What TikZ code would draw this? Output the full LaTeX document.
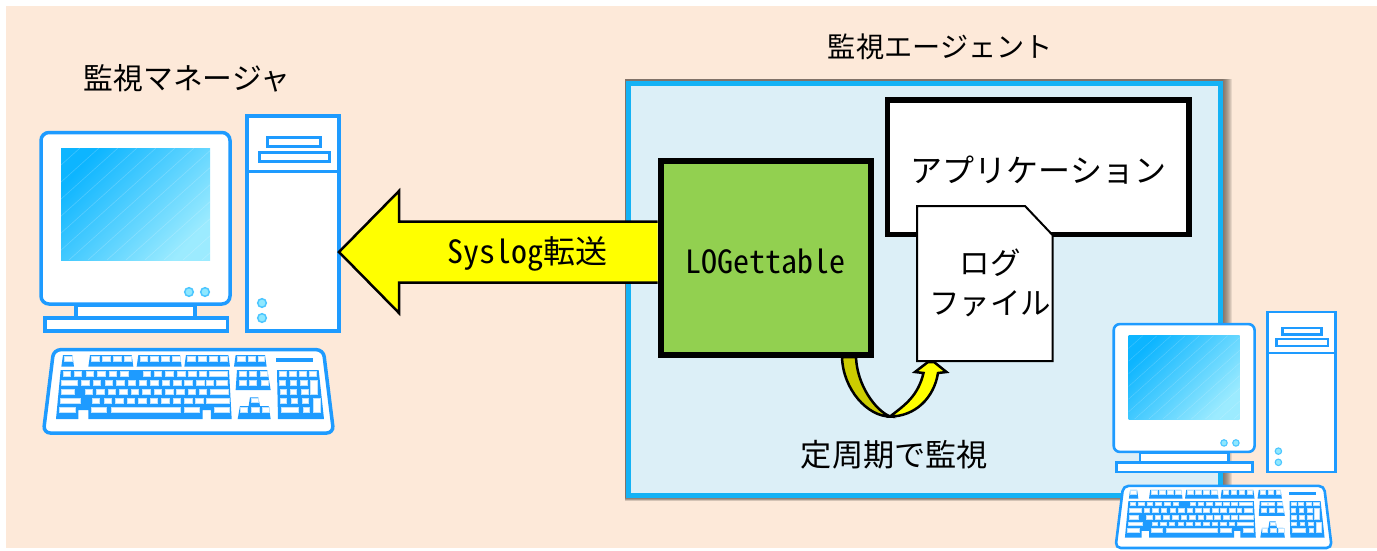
\documentclass[tikz,border=0pt]{standalone}
\usepackage{fontspec}
\setmainfont{Noto Sans CJK JP}
\newfontfamily\hwfont[RawFeature=+hwid]{Noto Sans CJK JP}
\definecolor{bgpeach}{HTML}{FDE9D9}
\definecolor{panelblue}{HTML}{DCEFF7}
\definecolor{panelrim}{HTML}{14B2F5}
\definecolor{pcblue}{HTML}{1E9BFF}
\definecolor{ledfill}{HTML}{8FE8FF}
\definecolor{ledrim}{HTML}{4CC6FF}
\definecolor{scrA}{HTML}{0DB5FF}
\definecolor{scrB}{HTML}{9CEBFF}
\definecolor{keyedge}{HTML}{BFE4FF}
\definecolor{brightyellow}{HTML}{FFFF00}
\definecolor{darkyellow}{HTML}{CCCC00}
\definecolor{logeGreen}{HTML}{92D050}
\definecolor{shadowtone}{HTML}{5A5048}
\tikzset{
  jptext/.style={inner sep=0pt,font=\fontsize{29.8}{40}\selectfont,align=center,text=black},
  hwtext/.style={inner sep=0pt,font=\fontsize{32}{38}\selectfont,text=black},
  pcline/.style={draw=pcblue,fill=white,line width=\cs*3.5pt},
  led/.style={draw=ledrim,fill=ledfill,line width=\cs*1.5pt},
  blackout/.style={draw=black,line width=2.5pt,line join=miter},
  keycap/.style={fill=white,draw=keyedge,line width=.3pt},
  keyblock/.style={fill=pcblue},
}
\newcommand{\keyrow}[3]{\foreach \a/\b in {#3} \path[keycap] (\a+1,#1+1) rectangle (\b-1,#2-1);}
\newcommand{\keyboardpic}{%
  \begin{scope}[shift={(30,340)},scale=1/3]
    \draw[pcline,rounded corners=\cs*7pt] (71,29) -- (880,29) -- (911,279) -- (40,279) -- cycle;
    % function row
    \foreach \a/\b in {94/132,175/310,320/455,463/600,612/710}
      \path[keyblock] (\a+5,45) -- (\b-5,45) -- (\b,80) -- (\a,80) -- cycle;
    \path[keyblock] (738,55) rectangle (848,67);
    \keyrow{47}{65}{100/126}
    \keyrow{47}{65}{183/208,215/240,248/273,281/305}
    \keyrow{47}{65}{328/352,360/385,393/418,426/450}
    \keyrow{47}{65}{471/496,503/528,536/561,568/593}
    \keyrow{47}{65}{620/645,652/677,684/704}
    % main block
    \path[keyblock] (92,90) -- (597,90) -- (605,237) -- (543,237) -- (543,210) -- (518,210) -- (518,237)
      -- (175,237) -- (175,210) -- (145,210) -- (145,237) -- (78,237) -- cycle;
    \keyrow{92}{108}{98/122,132/155,166/190,200/225,235/260,270/295,338/362,372/395,405/430,440/465,472/498,505/530,537/592}
    \keyrow{118}{135}{93/143,153/178,188/212,223/247,258/282,292/316,326/350,360/385,394/419,428/453,462/487,496/522,527/549,557/592}
    \keyrow{146}{162}{92/133,163/188,198/222,232/257,267/292,302/326,336/360,370/395,404/429,438/463,472/497,506/530,538/595}
    \keyrow{172}{190}{90/150,185/209,220/244,255/279,290/314,324/348,358/382,393/417,427/452,461/486,495/519,528/597}
    \keyrow{200}{218}{87/135,182/230,243/450,462/508,552/597}
    % navigation block
    \path[keyblock] (621,90) -- (712,90) -- (722,150) -- (617,150) -- cycle;
    \keyrow{92}{108}{625/650,655/680,688/712}
    \keyrow{118}{135}{627/648,657/680,692/715}
    % cursor block
    \path[keyblock] (660,172) -- (685,172) -- (690,198) -- (716,198) -- (722,237) -- (623,237) -- (630,198) -- (656,198) -- cycle;
    \keyrow{174}{188}{662/684}
    \keyrow{200}{218}{630/652,663/687,695/719}
    % numeric block
    \path[keyblock] (741,90) -- (866,90) -- (882,237) -- (744,237) -- cycle;
    \keyrow{92}{108}{746/768,776/798,805/830,835/860}
    \keyrow{118}{135}{745/765,778/798,810/832}
    \keyrow{146}{162}{748/770,780/800,812/834}
    \keyrow{172}{190}{748/770,782/802,815/835}
    \keyrow{200}{218}{752/805,817/838}
    \keyrow{118}{162}{840/862}
    \keyrow{172}{218}{847/870}
  \end{scope}}
\newcommand{\computerpic}[3]{% scale, x shift, y shift
  \def\cs{#1}%
  \begin{scope}[shift={(#2,#3)},scale=#1]
    % monitor
    \draw[pcline] (76,305) rectangle (195,318);
    \draw[pcline] (45,318) rectangle (227.5,331);
    \draw[pcline,rounded corners=\cs*8pt] (41,132.5) rectangle (230,304);
    \begin{scope}
      \clip (61,148) rectangle (210,260);
      \shade[top color=scrA,bottom color=scrB,shading angle=48] (61,148) rectangle (210,260);
      \foreach \k in {-64,-45,...,210}
        \draw[white,opacity=.2,line width=\cs*.6pt] (\k,260) -- (\k+125,148);
    \end{scope}
    \draw[led] (189,292) circle[radius=4.3];
    \draw[led] (205,292) circle[radius=4.3];
    % tower
    \draw[pcline] (247,116) rectangle (339,331);
    \draw[pcblue,line width=\cs*3.5pt] (247,171.5) -- (339,171.5);
    \draw[pcline,line width=\cs*3pt] (267.5,137.5) rectangle (320,146.5);
    \draw[pcline,line width=\cs*3pt] (259.5,152.5) rectangle (329,161.5);
    \draw[led] (262,303) circle[radius=4.3];
    \draw[led] (262,318) circle[radius=4.3];
    \keyboardpic
  \end{scope}}
\begin{document}
\begin{tikzpicture}[x=1pt,y=-1pt]
  \useasboundingbox (0,0) rectangle (1377,550);
  \fill[white] (0,0) rectangle (1377,550);
  \fill[bgpeach] (6,6) rectangle (1377,548);

  % panel with its soft shadow
  \foreach \d in {10,9,...,1}
    \fill[shadowtone,opacity=.13] (625,79) rectangle (1222+\d,497.5+\d*.35);
  \draw[panelrim,fill=panelblue,line width=5pt] (628.5,83.5) rectangle (1220,495);

  % manager computer
  \computerpic{1}{0}{0}

  % boxes
  \node[draw=black,line width=5.5pt,fill=white,minimum width=301.5pt,minimum height=134.5pt,inner sep=0pt] (appbox) at (1038,167) {};
  \node[jptext,font=\fontsize{32}{40}\selectfont] (apptext) at (1038.5,170) {アプリケーション};
  \node[draw=black,line width=6pt,fill=logeGreen,minimum width=210pt,minimum height=194pt,inner sep=0pt] (logebox) at (765.5,258) {};

  % Syslog arrow
  \coordinate (tip) at (339,252);
  \draw[blackout,fill=brightyellow] (logebox.west |- 0,221.5) -- (399,221.5) -- (399,191) -- (tip) -- (399,313) -- (399,282.5) -- (logebox.west |- 0,282.5);
  \draw[black,line width=6pt] ([xshift=3pt]logebox.north west) -- ([xshift=3pt]logebox.south west);

  % log file
  \coordinate (fileA) at (917,206);
  \coordinate (fileB) at (1025,206);
  \coordinate (fileC) at (1052.5,235);
  \coordinate (fileD) at (1052.5,361);
  \coordinate (fileE) at (917,361);
  \draw[blackout,fill=white,line width=2pt] (fileA) -- (fileB) -- (fileC) -- (fileD) -- (fileE) -- cycle;
  \node[jptext,font=\fontsize{30.5}{40}\selectfont] (filetext) at (990,283) {ログ\\ファイル};

  % curved arrow
  \coordinate (turn) at (890,416.5);
  \draw[blackout,fill=darkyellow] (842,357) .. controls (843,390) and (868,416.5) .. (turn) .. controls (875,410) and (857,385) .. (856,357) -- cycle;
  \draw[blackout,fill=brightyellow] (turn) .. controls (915,416.5) and (934,398) .. (938,373) -- (946.5,372) -- (934,362) -- (928,362) -- (915,372) -- (923.5,373) .. controls (918,396) and (905,405) .. (turn) -- cycle;

  % texts
  \node[jptext] (mgrlabel) at (187,78) {監視マネージャ};
  \node[jptext,font=\fontsize{28.2}{40}\selectfont] (agentlabel) at (940.5,47) {監視エージェント};
  \node[jptext,font=\fontsize{31.2}{40}\selectfont] (cycle) at (894.5,455) {定周期で監視};
  \node[hwtext] (sysloglabel) at (527,254) {{\hwfont Syslog}転送};
  \node[hwtext] (logelabel) at (765,261) {\hwfont LOGettable};

  % agent computer
  \computerpic{.745}{1083.2}{225.4}
\end{tikzpicture}
\end{document}
